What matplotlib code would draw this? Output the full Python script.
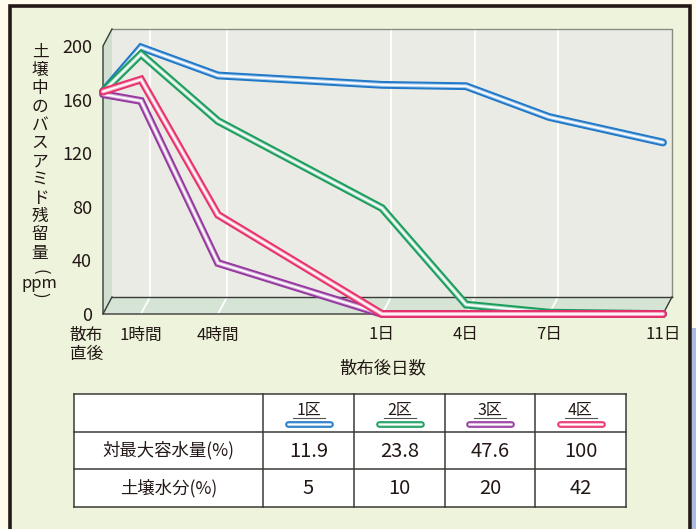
import matplotlib
matplotlib.use('Agg')
import matplotlib.pyplot as plt
from matplotlib.patches import Rectangle, Polygon
import matplotlib.colors as mcolors

plt.rcParams['font.family'] = ['Noto Sans CJK JP', 'DejaVu Sans']

# data
times = ['散布\n直後', '1時間', '4時間', '1日', '4日', '7日', '11日']
zone1 = [166, 199, 178, 171, 170, 147, 128]
zone2 = [166, 194, 144, 79, 7, 1, 0]
zone3 = [164, 159, 38, 0, 0, 0, 0]
zone4 = [166, 175, 74, 0, 0, 0, 0]

zones = ['1区', '2区', '3区', '4区']
row_labels = ['対最大容水量(%)', '土壌水分(%)']
max_capacity = ['11.9', '23.8', '47.6', '100']
soil_water = ['5', '10', '20', '42']

colors = ['#1f78c8', '#1a9d5c', '#96399f', '#e8306b']

# layout: horizontal position of each time on the front plane (px)
xpos = [0, 38, 115, 279, 363, 446, 560]
DX, DY = 9, 12.7   # depth offset of back wall in data units

ink = '#231815'
fig = plt.figure(figsize=(6.96, 5.29), dpi=100)
fig.patch.set_facecolor('#fffcee')

bg = fig.add_axes([0, 0, 1, 1])
bg.set_xlim(0, 696)
bg.set_ylim(529, 0)
bg.axis('off')
bg.add_patch(Rectangle((692, 328), 10, 210, color='#a9bce0', lw=0))
bg.add_patch(Rectangle((9.5, 6), 680.5, 540, facecolor='#edf4db',
                       edgecolor=ink, lw=2.6))

ax = fig.add_axes([103/696, 1-314/529, 560/696, 268/529])
ax.set_facecolor('none')
ax.set_xlim(0, 560)
ax.set_ylim(0, 200)
for s in ax.spines.values():
    s.set_visible(False)

# pseudo 3D walls
ax.add_patch(Rectangle((DX, DY), 560, 200, facecolor='#e9ebe4',
                       edgecolor='none', clip_on=False, zorder=0))
ax.add_patch(Polygon([(0, 0), (DX, DY), (560+DX, DY), (560, 0)],
                     facecolor='#d5e4d4', edgecolor='none', clip_on=False, zorder=0))
ax.add_patch(Polygon([(0, 0), (DX, DY), (DX, 200+DY), (0, 200)],
                     facecolor='#cfdfd0', edgecolor='none', clip_on=False, zorder=0))
for x in xpos[1:-1]:
    ax.plot([x, x+DX, x+DX], [0, DY, 200+DY], color='white', lw=1.3,
            clip_on=False, zorder=1)
ax.plot([DX, 560+DX, 560+DX], [200+DY, 200+DY, DY], color='#8a8a86',
        lw=1.0, clip_on=False, zorder=1)
ax.plot([DX, 560+DX], [DY, DY], color='#3a3a36', lw=1.0, clip_on=False, zorder=1)
ax.plot([DX, 0, 0, 560, 560+DX], [200+DY, 200, 0, 0, DY], color='#3a3a36',
        lw=1.0, clip_on=False, zorder=1)
ax.plot([0, DX], [0, DY], color='#3a3a36', lw=1.0, clip_on=False, zorder=1)


def tint(c, f):
    r, g, b = mcolors.to_rgb(c)
    return (r + (1-r)*f, g + (1-g)*f, b + (1-b)*f)


def tube(a, xs, ys, c, w=5.6):
    kw = dict(clip_on=False, solid_capstyle='round', solid_joinstyle='miter', zorder=3)
    a.plot(xs, ys, color=c, lw=w, **kw)
    a.plot(xs, ys, color=tint(c, 0.6), lw=w*0.5, **kw)
    a.plot(xs, ys, color='white', lw=w*0.22, **kw)


for vals, c in zip([zone1, zone2, zone3, zone4], colors):
    tube(ax, xpos, vals, c)

ax.set_yticks(range(0, 201, 40))
ax.tick_params(axis='y', length=0, pad=8, labelsize=13, labelcolor=ink)
ax.set_xticks(xpos)
ax.set_xticklabels(times)
ax.tick_params(axis='x', length=0, pad=9, labelsize=12, labelcolor=ink)
lab0 = ax.get_xticklabels()[0]
lab0.set_ha('right')
lab0.set_multialignment('left')
ax.set_xlabel('散布後日数', fontsize=12.5, color=ink, va='center')
ax.xaxis.set_label_coords(0.5, (314-368)/268)

# vertical y label
ychars = list('土壌中のバスアミド残留量')
for i, ch in enumerate(ychars):
    bg.text(40, 52 + i*18.3, ch, fontsize=12, color=ink, ha='center', va='center')
bg.text(40, 272, '(', fontsize=12, color=ink, ha='center', va='center', rotation=-90)
bg.text(39, 283, 'ppm', fontsize=12, color=ink, ha='center', va='center')
bg.text(40, 295, ')', fontsize=12, color=ink, ha='center', va='center', rotation=-90)

# table
cols = [74, 263, 354, 445, 535, 626]
rows = [394, 432, 469, 507]
bg.add_patch(Rectangle((cols[0], rows[0]), cols[-1]-cols[0], rows[-1]-rows[0],
                       facecolor='white', edgecolor='none'))
for y in rows:
    bg.plot([cols[0], cols[-1]], [y, y], color='#3a3a36', lw=1.1)
for x in cols:
    bg.plot([x, x], [rows[0], rows[-1]], color='#3a3a36', lw=1.1)

for j, (z, c) in enumerate(zip(zones, colors)):
    cx = (cols[j+1] + cols[j+2]) / 2
    bg.text(cx, 410, z, fontsize=11.5, color=ink, ha='center', va='center')
    bg.plot([cx-16, cx+16], [418, 418], color='#555', lw=0.8)
    tube(bg, [cx-21, cx+21], [424, 424], c, w=4.8)

for i, (lab, vals) in enumerate(zip(row_labels, [max_capacity, soil_water])):
    cy = (rows[i+1] + rows[i+2]) / 2
    bg.text((cols[0]+cols[1])/2, cy, lab, fontsize=12.5, color=ink,
            ha='center', va='center')
    for j, v in enumerate(vals):
        bg.text((cols[j+1]+cols[j+2])/2, cy + 1, v, fontsize=14.5, color=ink,
                ha='center', va='center')

fig.savefig('out.png', dpi=100, facecolor=fig.get_facecolor())
